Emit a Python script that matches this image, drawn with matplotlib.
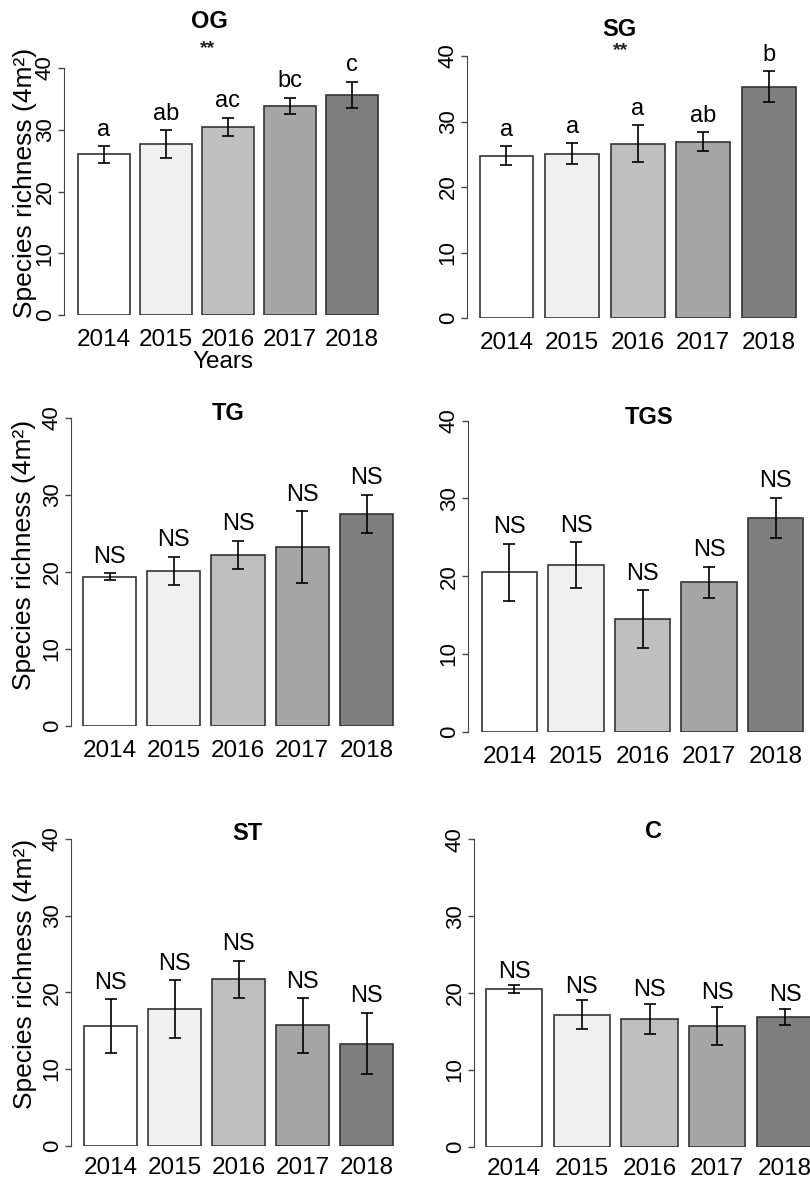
import matplotlib
matplotlib.use("Agg")
import matplotlib.pyplot as plt

plt.rcParams['font.family'] = ['Liberation Sans', 'DejaVu Sans']

years = ['2014', '2015', '2016', '2017', '2018']
bar_colors = ['#ffffff', '#f0f0f0', '#bfbfbf', '#a6a6a6', '#7f7f7f']

# mean species richness and error
og_mean = [26.0, 27.7, 30.5, 33.9, 35.6]
og_err = [1.35, 2.2, 1.45, 1.3, 2.15]
og_lab = ['a', 'ab', 'ac', 'bc', 'c']

sg_mean = [24.8, 25.1, 26.6, 26.9, 35.3]
sg_err = [1.4, 1.55, 2.8, 1.45, 2.35]
sg_lab = ['a', 'a', 'a', 'ab', 'b']

tg_mean = [19.35, 20.1, 22.2, 23.2, 27.5]
tg_err = [0.45, 1.85, 1.85, 4.65, 2.5]

tgs_mean = [20.5, 21.4, 14.5, 19.2, 27.5]
tgs_err = [3.7, 2.95, 3.7, 2.0, 2.6]

st_mean = [15.6, 17.8, 21.7, 15.7, 13.3]
st_err = [3.5, 3.8, 2.45, 3.55, 4.0]

c_mean = [20.5, 17.2, 16.6, 15.7, 16.9]
c_err = [0.5, 1.85, 1.95, 2.5, 1.0]

ns = ['NS'] * 5

W, H = 810, 1180
fig = plt.figure(figsize=(W / 100, H / 100), dpi=100)


def panel(spine_x, right_x, y0, y40, c0, pitch, width, means, errs, labels,
          title, title_xy, stars_xy=None, ylabel_xy=None, lab_off=4, tick_pad=10):
    ax = fig.add_axes([spine_x / W, 1 - y0 / H, (right_x - spine_x) / W, (y0 - y40) / H])
    ax.set_xlim((spine_x - c0) / pitch, (right_x - c0) / pitch)
    ax.set_ylim(0, 40)
    x = list(range(len(years)))
    ax.bar(x, means, width=width, color=bar_colors, edgecolor='#333333', linewidth=1.2, zorder=2)
    ax.errorbar(x, means, yerr=errs, fmt='none', ecolor='black', elinewidth=1.2,
                capsize=4.5, capthick=1.2, zorder=3)
    for i in x:
        ax.annotate(labels[i], (i, means[i] + errs[i]), xytext=(0, lab_off),
                    textcoords='offset points', ha='center', va='bottom',
                    fontsize=17, annotation_clip=False)
    for s in ['top', 'right', 'bottom']:
        ax.spines[s].set_visible(False)
    ax.spines['left'].set_bounds(0, 40)
    ax.spines['left'].set_color('#444444')
    ax.set_yticks([0, 10, 20, 30, 40])
    ax.set_yticklabels(['0', '10', '20', '30', '40'], rotation=90, va='center', fontsize=16)
    ax.tick_params(axis='y', length=4, width=1, color='#444444', pad=2)
    ax.set_xticks(x)
    ax.set_xticklabels(years, fontsize=17.5)
    ax.tick_params(axis='x', length=0, pad=tick_pad)
    ax.patch.set_visible(False)
    fig.text(title_xy[0] / W, 1 - title_xy[1] / H, title, fontsize=17,
             fontweight='bold', ha='center', va='center')
    if stars_xy:
        fig.text(stars_xy[0] / W, 1 - stars_xy[1] / H, '**', fontsize=14,
                 fontweight='bold', ha='center', va='center', color='#222222')
    if ylabel_xy:
        fig.text(ylabel_xy[0] / W, 1 - ylabel_xy[1] / H, 'Species richness (4m²)',
                 fontsize=19, rotation=90, ha='center', va='center')
    return ax


panel(64, 395, 315, 68, 104, 62, 0.84, og_mean, og_err, og_lab,
      'OG', (209, 22), stars_xy=(208, 49), ylabel_xy=(25, 183))
fig.text(223 / W, 1 - 362 / H, 'Years', fontsize=17.5, ha='center', va='center')

panel(467, 805, 318, 56, 506.5, 65.6, 0.82, sg_mean, sg_err, sg_lab,
      'SG', (619, 30), stars_xy=(621, 51))

panel(71, 405, 725.7, 417.7, 109.5, 64.25, 0.825, tg_mean, tg_err, ns,
      'TG', (228, 413), ylabel_xy=(24, 555))

panel(468, 810, 731.7, 420.7, 509.5, 66.5, 0.83, tgs_mean, tgs_err, ns,
      'TGS', (649, 417))

panel(71, 405, 1145.7, 839, 110.5, 64, 0.84, st_mean, st_err, ns,
      'ST', (247, 833), ylabel_xy=(25, 974), tick_pad=8)

panel(474, 810, 1146.7, 839.3, 514, 67.75, 0.83, c_mean, c_err, ns,
      'C', (653, 832), lab_off=2, tick_pad=8)

fig.savefig('out.png', dpi=100)
